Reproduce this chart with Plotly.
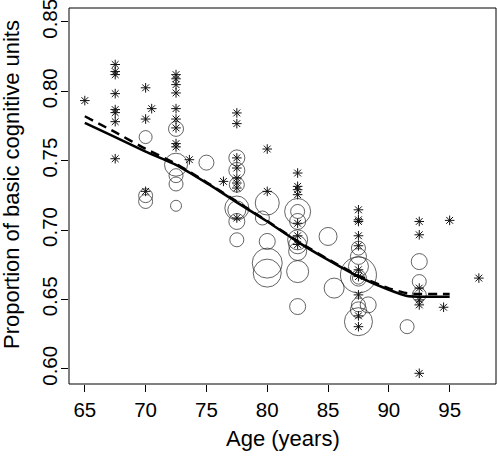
import plotly.graph_objects as go

# Asterisk points (age, proportion)
star_age = [65,
            67.5, 67.5, 67.5, 67.5, 67.5, 67.5, 67.5, 67.5,
            70, 70, 70, 70.5,
            72.5, 72.5, 72.5, 72.5, 72.5, 72.5, 72.5, 72.5, 72.5, 73.6,
            76.4,
            77.5, 77.5, 77.5, 77.5, 77.5, 77.5, 77.5, 77.5,
            80, 80,
            82.5, 82.5, 82.5, 82.5, 82.5, 82.5, 82.5,
            87.5, 87.5, 87.5, 87.5, 87.5, 87.5, 87.5, 87.5, 87.5, 87.5,
            92.5, 92.5, 92.5, 92.5, 92.5, 92.5,
            94.5, 95, 97.4]
star_val = [0.7933,
            0.8193, 0.8142, 0.8120, 0.7983, 0.7868, 0.7846, 0.7781, 0.7514,
            0.8025, 0.7800, 0.7279, 0.7875,
            0.8120, 0.8090, 0.8048, 0.7988, 0.7875, 0.7800, 0.7736, 0.7623, 0.7599, 0.7507,
            0.7351,
            0.7844, 0.7767, 0.7520, 0.7447, 0.7375, 0.7339, 0.7303, 0.7087,
            0.7584, 0.7279,
            0.7411, 0.7315, 0.7291, 0.7255, 0.7049, 0.6959, 0.6896,
            0.7146, 0.7074, 0.7062, 0.6959, 0.6887, 0.6714, 0.6665, 0.6533, 0.6382, 0.6304,
            0.7062, 0.6966, 0.6582, 0.6497, 0.6461, 0.5968,
            0.6444, 0.7070, 0.6654]

# Circle points (age, proportion, relative weight -> circle diameter)
circ_age = [70, 70, 70,
            72.5, 72.5, 72.5, 72.5, 72.5,
            75,
            77.5, 77.5, 77.5, 77.5, 77.5, 77.5, 77.5,
            80, 79.6, 80, 80, 80,
            82.5, 82.5, 82.5, 82.5, 82.5, 82.5, 82.5, 82.5,
            85, 85.5,
            87.5, 87.5, 87.5, 87.5, 87.5, 87.5, 87.5, 87.5, 87.5, 88.3,
            91.5,
            92.5, 92.5, 92.5]
circ_val = [0.7670, 0.7248, 0.7206,
            0.7729, 0.7471, 0.7392, 0.7332, 0.7175,
            0.7486,
            0.7520, 0.7430, 0.7327, 0.7159, 0.7145, 0.7062, 0.6930,
            0.7195, 0.7087, 0.6918, 0.6762, 0.6690,
            0.7134, 0.7134, 0.7062, 0.6930, 0.6894, 0.6846, 0.6701, 0.6449,
            0.6954, 0.6582,
            0.6870, 0.6810, 0.6737, 0.6677, 0.6654, 0.6654, 0.6461, 0.6425, 0.6340, 0.6461,
            0.6304,
            0.6773, 0.6629, 0.6533]
circ_weight = [13, 14, 14,
               15, 23, 14, 14, 11,
               15,
               16, 16, 15, 24, 18, 16, 14,
               24, 14, 16, 30, 28,
               26, 14, 16, 20, 18, 18, 22, 16,
               18, 20,
               14, 16, 20, 36, 16, 12, 14, 16, 28, 16,
               14,
               16, 14, 14]

# Fitted curves
fit_age = [65, 67.5, 70, 72.5, 75, 77.5, 80, 82.5, 85, 87.5, 90, 91.5, 92.5, 95]
fit_solid = [0.7772, 0.7669, 0.7566, 0.7470, 0.7340, 0.7200, 0.7062, 0.6915,
             0.6785, 0.6665, 0.6570, 0.6525, 0.6520, 0.6520]
fit_dashed = [0.7820, 0.7705, 0.7585, 0.7478, 0.7345, 0.7205, 0.7065, 0.6920,
              0.6790, 0.6672, 0.6580, 0.6545, 0.6540, 0.6540]

x_ticks = [65, 70, 75, 80, 85, 90, 95]
y_ticks = [0.60, 0.65, 0.70, 0.75, 0.80, 0.85]

FONT = "Liberation Sans, Arial, Helvetica, sans-serif"

fig = go.Figure()
fig.add_trace(go.Scatter(
    x=circ_age, y=circ_val, mode="markers",
    marker=dict(symbol="circle-open", size=circ_weight, color="#222222",
                line=dict(width=1, color="#222222")),
    showlegend=False, hoverinfo="skip"))
fig.add_trace(go.Scatter(
    x=star_age, y=star_val, mode="markers",
    marker=dict(symbol="asterisk-open", size=8, color="#111111",
                line=dict(width=1, color="#111111")),
    showlegend=False, hoverinfo="skip"))
fig.add_trace(go.Scatter(
    x=fit_age, y=fit_dashed, mode="lines",
    line=dict(color="black", width=2.5, dash="9px,6px", shape="spline", smoothing=0.5),
    showlegend=False, hoverinfo="skip"))
fig.add_trace(go.Scatter(
    x=fit_age, y=fit_solid, mode="lines",
    line=dict(color="black", width=2.5, shape="spline", smoothing=0.5),
    showlegend=False, hoverinfo="skip"))

fig.update_layout(
    width=498, height=456,
    margin=dict(l=69, r=2, t=8, b=72, autoexpand=False),
    paper_bgcolor="white", plot_bgcolor="white",
    font=dict(family=FONT, size=20.5, color="black"),
    shapes=[dict(type="rect", xref="paper", yref="paper", x0=0, x1=1, y0=0, y1=1,
                 line=dict(color="black", width=1), fillcolor="rgba(0,0,0,0)",
                 layer="above")],
    annotations=[
        dict(text="Age (years)", xref="paper", yref="paper",
             x=0.5, y=(384 - 439) / 376, xanchor="center", yanchor="middle",
             showarrow=False, font=dict(size=22)),
        dict(text="Proportion of basic cognitive units", xref="paper", yref="paper",
             x=(11 - 69) / 427, y=(384 - 185) / 376, xanchor="center", yanchor="middle",
             textangle=-90, showarrow=False, font=dict(size=22)),
    ],
)
fig.update_xaxes(
    range=[63.70, 98.81], tickvals=x_ticks, ticktext=[str(v) for v in x_ticks],
    showgrid=False, zeroline=False, showline=False,
    ticks="outside", ticklen=7, tickwidth=1, tickcolor="black",
    automargin=False, ticklabeloverflow="allow",
)
fig.update_yaxes(
    range=[0.5891, 0.8600], tickvals=y_ticks, ticktext=["%.2f" % v for v in y_ticks],
    tickangle=-90, ticklabelstandoff=-4,
    showgrid=False, zeroline=False, showline=False,
    ticks="outside", ticklen=7, tickwidth=1, tickcolor="black",
    automargin=False, ticklabeloverflow="allow",
)

fig.write_html(
    "out.html",
    config={"displayModeBar": False},
    post_script="document.body.style.margin='0';document.body.style.padding='0';"
                "document.body.style.overflow='hidden';",
)
